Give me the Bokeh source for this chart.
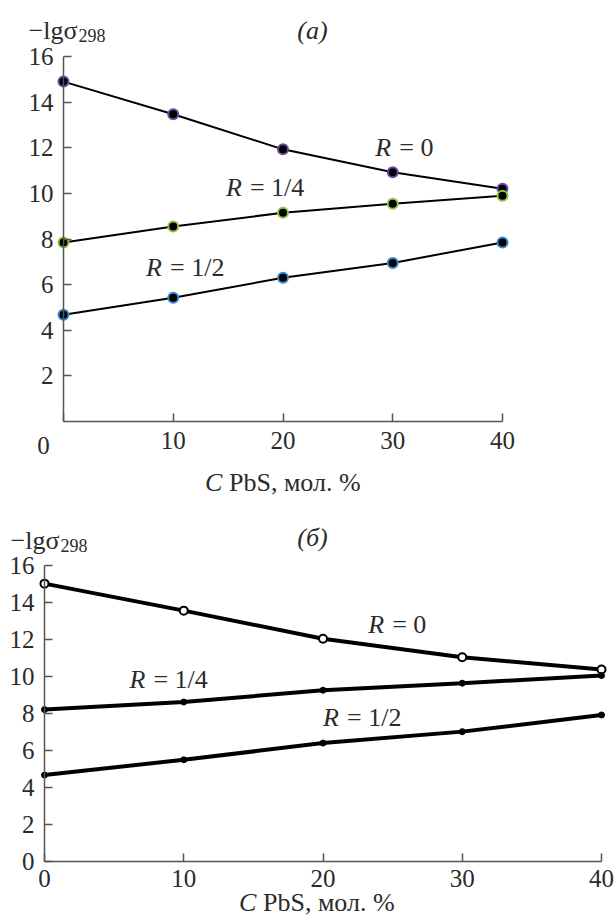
from bokeh.plotting import figure
from bokeh.models import Range1d, FixedTicker, Label, LinearAxis
from bokeh.layouts import column
from bokeh.embed import file_html
from bokeh.resources import INLINE

FONT = "Liberation Serif"
TXT = "#2b2b2b"
AXC = "#555555"
TICK_FS = "25px"
FS = "26px"

# ---- data ----
c_pbs = [0, 10, 20, 30, 40]
x_ticks = [0, 10, 20, 30, 40]
ya_ticks = [2, 4, 6, 8, 10, 12, 14, 16]
yb_ticks = [0, 2, 4, 6, 8, 10, 12, 14, 16]

a_r0 = [14.9, 13.47, 11.93, 10.93, 10.2]
a_r14 = [7.85, 8.55, 9.15, 9.55, 9.9]
a_r12 = [4.68, 5.42, 6.3, 6.95, 7.85]

b_r0 = [15.02, 13.56, 12.04, 11.04, 10.38]
b_r14 = [8.21, 8.62, 9.26, 9.64, 10.05]
b_r12 = [4.67, 5.5, 6.4, 7.02, 7.92]

series_names = ["= 0", "= 1/4", "= 1/2"]

W = 616


def lab(p, x, y, text, xo=0, yo=0, align="left", base="middle", size=FS, style="normal"):
    p.add_layout(Label(x=x, y=y, text=text, x_offset=xo, y_offset=yo,
                       text_align=align, text_baseline=base, text_font=FONT,
                       text_font_size=size, text_color=TXT, text_font_style=style))


def r_label(p, x, y, rest, rest_w):
    # composite label: italic R followed by upright "= ..."
    r_w = 16
    gap = 8
    total = r_w + gap + rest_w
    left = -total / 2
    lab(p, x, y, "R", xo=left, align="left", style="italic")
    lab(p, x, y, rest, xo=left + r_w + gap, align="left")


def make_fig(height, x0_px, x40_px, y16_px, y0_px, yticks, x_standoff, hide_zero_x):
    # the frame covers the whole figure; axes sit at data 0 via fixed_location
    sx = (x40_px - x0_px) / 40.0
    sy = (y0_px - y16_px) / 16.0
    xr = Range1d(-x0_px / sx, (W - x0_px) / sx)
    yr = Range1d(-(height - y0_px) / sy, 16 + y16_px / sy)
    p = figure(width=W, height=height, x_range=xr, y_range=yr,
               x_axis_location=None, y_axis_location=None, title=None,
               min_border=0, min_border_left=0, min_border_right=0,
               min_border_top=0, min_border_bottom=0,
               output_backend="svg", toolbar_location=None)
    p.frame_align = False
    p.xgrid.visible = False
    p.ygrid.visible = False
    p.outline_line_color = None
    p.background_fill_color = "white"
    p.border_fill_color = "white"

    xa = LinearAxis(ticker=FixedTicker(ticks=x_ticks), bounds=(0, 40), fixed_location=0)
    ya = LinearAxis(ticker=FixedTicker(ticks=yticks), bounds=(0, 16), fixed_location=0)
    for ax in (xa, ya):
        ax.axis_line_color = AXC
        ax.axis_line_width = 1.5
        ax.major_tick_line_color = AXC
        ax.major_tick_line_width = 1.5
        ax.major_tick_in = 8
        ax.major_tick_out = 0
        ax.minor_tick_line_color = None
        ax.major_label_text_font = FONT
        ax.major_label_text_font_size = TICK_FS
        ax.major_label_text_color = TXT
    xa.major_label_standoff = x_standoff
    ya.major_label_standoff = 10
    if hide_zero_x:
        xa.major_label_overrides = {0: ""}
    p.add_layout(xa, "below")
    p.add_layout(ya, "left")
    return p


# ---------------- top chart (a) ----------------
p1 = make_fig(500, 63, 502, 56, 421, ya_ticks, 10, True)
colors_a = ["#6e4a9e", "#8cc63f", "#3a86cc"]
for ys, col in zip([a_r0, a_r14, a_r12], colors_a):
    p1.line(c_pbs, ys, line_color="black", line_width=2)
    p1.scatter(c_pbs, ys, size=10, fill_color="black", line_color=col, line_width=2)

lab(p1, 0, 0, "0", xo=-20, yo=-24, align="center", size=TICK_FS)
lab(p1, 0, 16, "\u2212lg\u03c3", xo=-35, yo=26, base="alphabetic")
lab(p1, 0, 16, "298", xo=15, yo=21, base="alphabetic", size="18px")
lab(p1, 0, 16, "(a)", xo=249, yo=26, align="center", style="italic")
lab(p1, 20, 0, "C", xo=-78, yo=-61, align="left", style="italic")
lab(p1, 20, 0, "PbS, мол. %", xo=-54, yo=-61, align="left")
r_label(p1, 31.15, 12.03, series_names[0], 36)
r_label(p1, 18.35, 10.26, series_names[1], 54)
r_label(p1, 11.07, 6.77, series_names[2], 54)

# ---------------- bottom chart (б) ----------------
p2 = make_fig(420, 44, 601, 65, 361, yb_ticks, 8, False)
for ys in (b_r0, b_r14, b_r12):
    p2.line(c_pbs, ys, line_color="black", line_width=4)
p2.scatter(c_pbs, b_r0, size=8, fill_color="white", line_color="black", line_width=2)
p2.scatter(c_pbs, b_r14, size=6, fill_color="black", line_color="black")
p2.scatter(c_pbs, b_r12, size=6, fill_color="black", line_color="black")

lab(p2, 0, 16, "\u2212lg\u03c3", xo=-34, yo=25, base="alphabetic")
lab(p2, 0, 16, "298", xo=16, yo=20, base="alphabetic", size="18px")
lab(p2, 0, 16, "(\u0431)", xo=268, yo=28, align="center", style="italic")
lab(p2, 20, 0, "C", xo=-84, yo=-41, align="left", style="italic")
lab(p2, 20, 0, "PbS, мол. %", xo=-60, yo=-41, align="left")
r_label(p2, 25.4, 12.81, series_names[0], 36)
r_label(p2, 8.9, 9.84, series_names[1], 54)
r_label(p2, 22.8, 7.8, series_names[2], 54)

layout = column(p1, p2, spacing=0)
open("out.html", "w").write(file_html(layout, INLINE))
